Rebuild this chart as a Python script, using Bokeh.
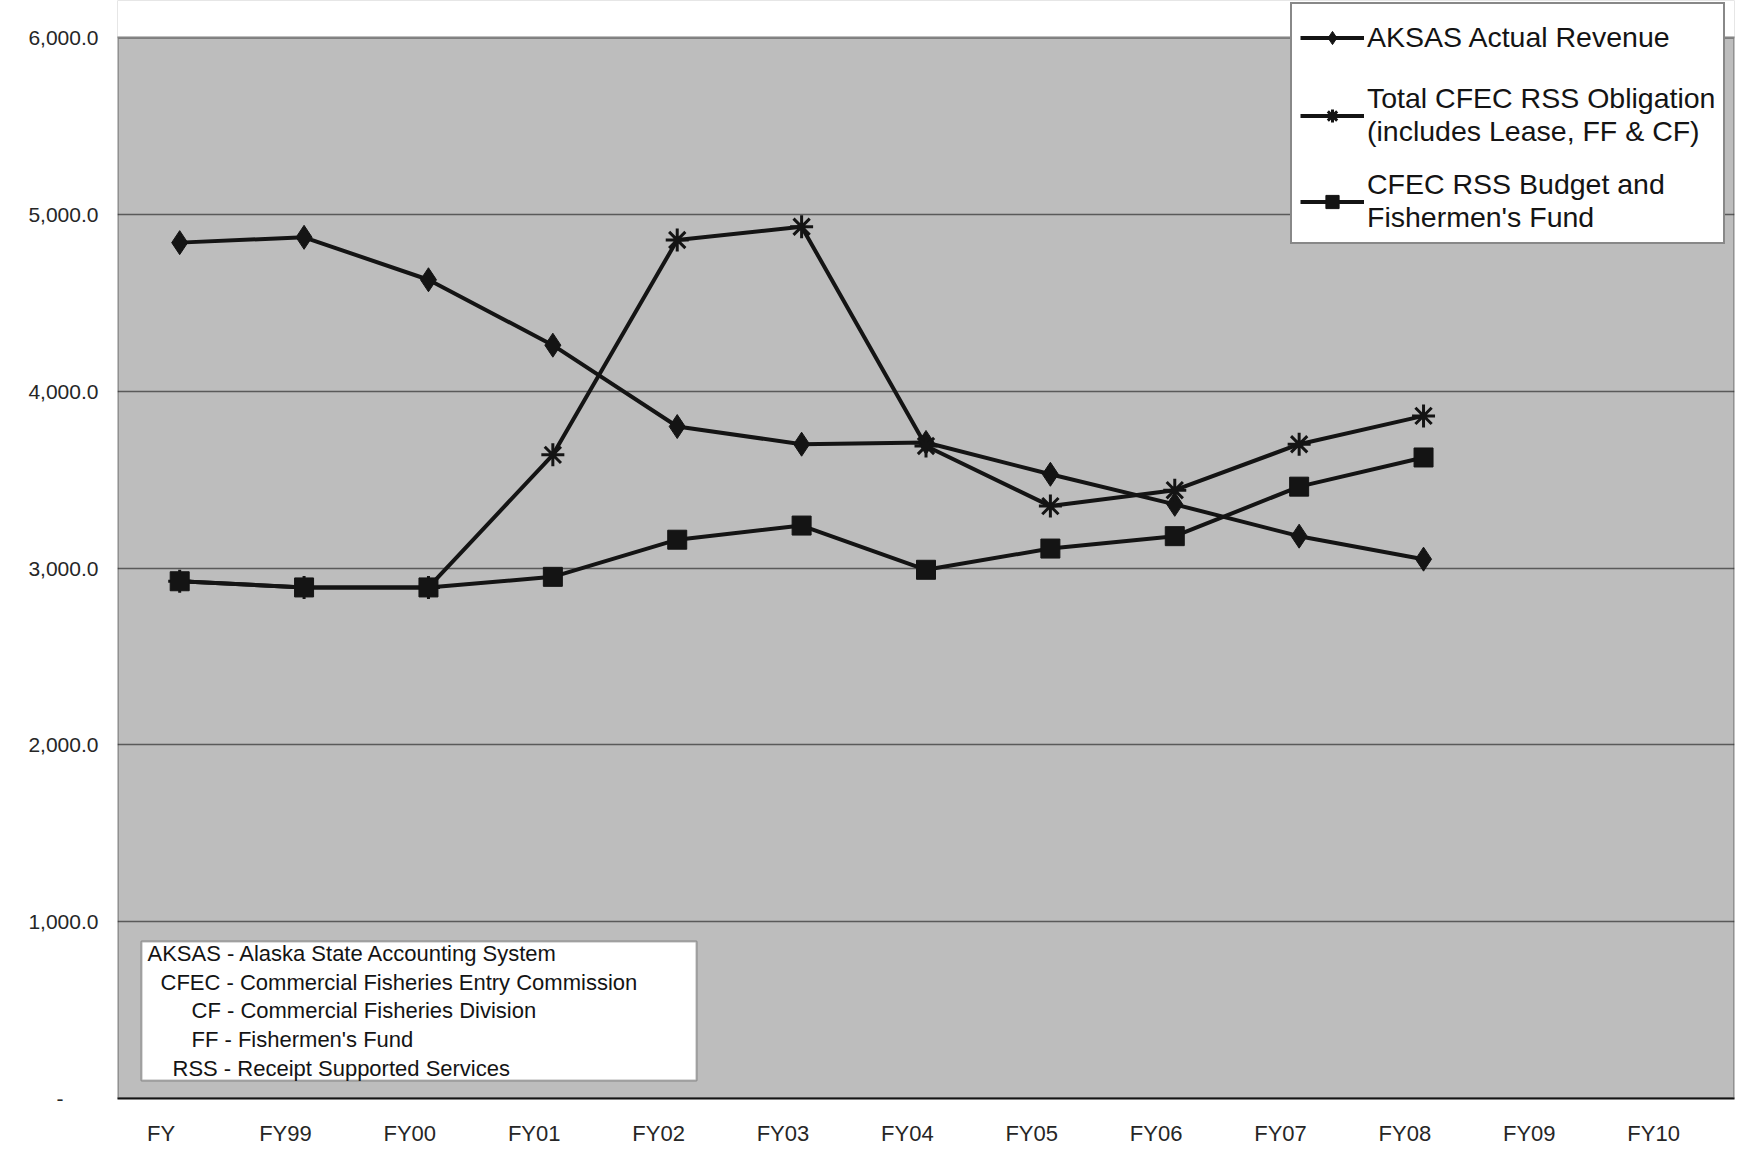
from bokeh.plotting import figure
from bokeh.models import (Range1d, FixedTicker, NumeralTickFormatter, Legend, LegendItem,
                          Label, BoxAnnotation, ColumnDataSource)
from bokeh.embed import file_html
from bokeh.resources import INLINE

# ---------------- data ----------------
categories = ["FY", "FY99", "FY00", "FY01", "FY02", "FY03", "FY04",
              "FY05", "FY06", "FY07", "FY08", "FY09", "FY10"]
data_years = ["FY", "FY99", "FY00", "FY01", "FY02", "FY03", "FY04",
              "FY05", "FY06", "FY07", "FY08"]
aksas_revenue = [4840, 4870, 4630, 4260, 3800, 3700, 3710, 3530, 3360, 3180, 3050]
rss_obligation = [2925, 2890, 2890, 3640, 4855, 4930, 3690, 3350, 3440, 3700, 3860]
rss_budget_ff = [2925, 2890, 2890, 2950, 3160, 3240, 2990, 3110, 3180, 3460, 3625]
y_ticks = [0, 1000, 2000, 3000, 4000, 5000, 6000]
series_names = ["AKSAS Actual Revenue",
                "Total CFEC RSS Obligation\n(includes Lease, FF & CF)",
                "CFEC RSS Budget and\nFishermen's Fund"]
abbrevs = ["AKSAS", "CFEC", "CF", "FF", "RSS"]
abbrev_meanings = ["Alaska State Accounting System",
                   "Commercial Fisheries Entry Commission",
                   "Commercial Fisheries Division",
                   "Fishermen's Fund",
                   "Receipt Supported Services"]

FONT = "Liberation Sans"
INK = "#141414"

# layout (pixels)
W, H = 1737, 1156
F_LEFT, F_RIGHT = 117, 1734          # plot-area left/right edge on the page
Y_TOP_PX, Y_ZERO_PX = 37, 1098       # where 6000 and 0 fall on the page
px_per_unit = (Y_ZERO_PX - Y_TOP_PX) / 6000.0
y_end = 6000 + Y_TOP_PX / px_per_unit  # frame reaches the top of the canvas
cat_w = (F_RIGHT - F_LEFT) / len(categories)

x_idx = [categories.index(c) for c in data_years]
src = ColumnDataSource(dict(x=x_idx, aksas=aksas_revenue, obl=rss_obligation, bud=rss_budget_ff))

p = figure(width=W, height=H, x_range=Range1d(-0.5, len(categories) - 0.5),
           y_range=Range1d(0, y_end), output_backend="svg", toolbar_location=None,
           min_border_left=F_LEFT, min_border_right=W - F_RIGHT, min_border_top=0,
           min_border_bottom=H - Y_ZERO_PX)

p.background_fill_color = "#bdbdbd"
p.border_fill_color = "white"
p.outline_line_color = None

# axes
p.xaxis.ticker = FixedTicker(ticks=[i - 0.15 for i in range(len(categories))])
p.xaxis.major_label_overrides = {i - 0.15: c for i, c in enumerate(categories)}
p.yaxis.ticker = FixedTicker(ticks=y_ticks)
p.yaxis.formatter = NumeralTickFormatter(format="0,0.0")
p.yaxis.major_label_overrides = {0: "-" + "\u00a0" * 6}
for ax in (p.xaxis[0], p.yaxis[0]):
    ax.major_tick_line_color = None
    ax.minor_tick_line_color = None
    ax.major_label_text_font = FONT
    ax.major_label_text_color = "#262626"
p.xaxis.axis_line_color = "#111111"
p.xaxis.axis_line_width = 2
p.yaxis.axis_line_color = None
p.xaxis.major_label_text_font_size = "22px"
p.yaxis.major_label_text_font_size = "21px"
p.xaxis.major_label_standoff = 16
p.yaxis.major_label_standoff = 13

p.xgrid.grid_line_color = None
p.ygrid.ticker = FixedTicker(ticks=y_ticks)
p.ygrid.grid_line_color = "#5a5a5a"
p.ygrid.grid_line_width = 1.6

# series
l1 = p.line("x", "aksas", source=src, line_color=INK, line_width=4)
m1 = p.scatter("x", "aksas", source=src, marker="diamond", size=24, color=INK)
l2 = p.line("x", "obl", source=src, line_color=INK, line_width=4)
m2 = p.scatter("x", "obl", source=src, marker="asterisk", size=23, line_color=INK, line_width=3)
l3 = p.line("x", "bud", source=src, line_color=INK, line_width=4)
m3 = p.scatter("x", "bud", source=src, marker="square", size=19, color=INK)

# white paper above the 6000 line, then the plot-area border
p.add_layout(BoxAnnotation(bottom=6000, fill_color="white", fill_alpha=1.0, line_color=None))
p.add_layout(BoxAnnotation(left=-0.5, right=len(categories) - 0.5, bottom=0, top=6000,
                           fill_alpha=0, line_color="#2a2a2a", line_width=3))

legend = Legend(items=[LegendItem(label=series_names[0], renderers=[l1, m1]),
                       LegendItem(label=series_names[1], renderers=[l2, m2]),
                       LegendItem(label=series_names[2], renderers=[l3, m3])],
                location=(1290 - F_LEFT, Y_ZERO_PX - 244))
legend.label_text_font = FONT
legend.label_text_font_size = "28.5px"
legend.label_text_color = INK
legend.label_text_line_height = 1.16
legend.glyph_width = 64
legend.glyph_height = 33
legend.label_height = 50
legend.label_standoff = 3
legend.spacing = 20
legend.padding = 8
legend.margin = 0
legend.border_line_color = "#111111"
legend.border_line_width = 2
legend.background_fill_color = "white"
legend.background_fill_alpha = 1.0
p.add_layout(legend, "center")

# abbreviation box
def dx(px):
    return (px - F_LEFT) / cat_w - 0.5

def dy(py):
    return (Y_ZERO_PX - py) / px_per_unit

p.add_layout(BoxAnnotation(left=dx(141), right=dx(696), bottom=dy(1080), top=dy(941),
                           fill_color="white", fill_alpha=1.0,
                           line_color="#111111", line_width=2))
line_px_x = [147, 160, 191, 191, 172]
line_px_y = [953, 982, 1010, 1039, 1068]
for a, m, px, py in zip(abbrevs, abbrev_meanings, line_px_x, line_px_y):
    p.add_layout(Label(x=dx(px), y=dy(py), text=f"{a} - {m}", text_font=FONT,
                       text_font_size="22px", text_color=INK, text_baseline="middle",
                       text_align="left"))

open("out.html", "w").write(file_html(p, INLINE))
